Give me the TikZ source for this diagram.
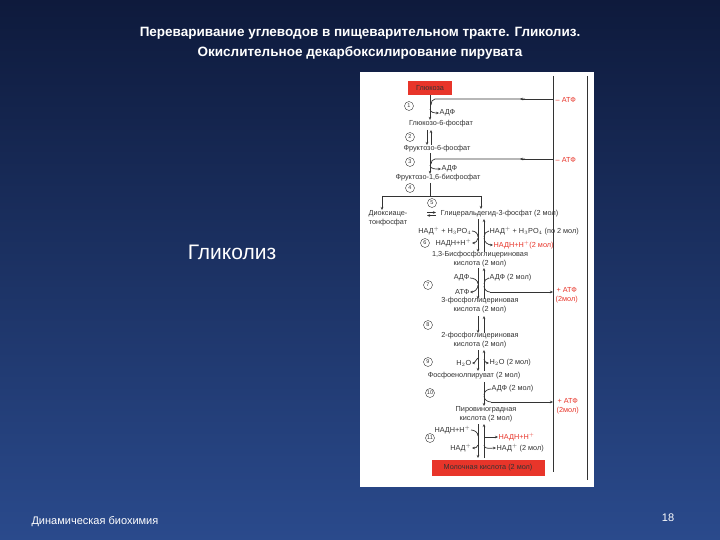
\documentclass[tikz,border=0pt]{standalone}
\usepackage{fontspec}
\setmainfont{Liberation Sans}
\usetikzlibrary{arrows.meta}
\definecolor{bgtop}{HTML}{0E1A3C}
\definecolor{bgbot}{HTML}{2A4A8C}
\definecolor{rd}{HTML}{E8352A}
\definecolor{ink}{HTML}{333333}
\begin{document}
\begin{tikzpicture}[x=1pt,y=-1pt,
  t/.style={font=\fontsize{7.3}{8.6}\selectfont,text=ink,inner sep=0.5pt,align=center},
  tr/.style={t,text=rd},
  num/.style={draw=ink,circle,inner sep=0pt,minimum size=9pt,font=\fontsize{5.5}{5.5}\selectfont,text=ink},
  ln/.style={draw=ink,line width=0.7pt},
  ar/.style={ln,-{Stealth[length=3pt,width=2.5pt]}},
  redbox/.style={fill=rd,text=ink,font=\fontsize{7.3}{8}\selectfont,inner sep=2pt}]
\shade[top color=bgtop,bottom color=bgbot] (0,0) rectangle (720,540);
\useasboundingbox (0,0) rectangle (720,540);
\node (title) [text=white,font=\bfseries\fontsize{13.5}{20}\selectfont,align=center] at (360,43)
 {Переваривание углеводов в пищеварительном тракте. Гликолиз.\\Окислительное декарбоксилирование пирувата};
\node (gl) [text=white,font=\fontsize{21}{24}\selectfont] at (232,252) {Гликолиз};
\node (foot) [text=white,font=\fontsize{11}{13}\selectfont,anchor=west] at (28,522) {Динамическая биохимия};
\node (pg) [text=white,font=\fontsize{11}{13}\selectfont] at (668,518) {18};
% white panel
\node (panel) [fill=white,minimum width=234pt,minimum height=415pt,inner sep=0pt] at (477,279.5) {};
\draw[ln] (553,76) -- (553,472);
\draw[ln] (587,76) -- (587,480);
\node (glu) [redbox,minimum width=44pt,minimum height=14pt] at (430,88) {Глюкоза};
\node (n1) [num] at (409,106) {1};
\node (adf1) [t,anchor=west] at (439,113) {АДФ};
\node (g6p) [t] at (441,124) {Глюкозо-6-фосфат};
\node (n2) [num] at (410,137) {2};
\node (f6p) [t] at (437,149) {Фруктозо-6-фосфат};
\node (n3) [num] at (410,162) {3};
\node (adf2) [t,anchor=west] at (441,169) {АДФ};
\node (f16) [t] at (438,178) {Фруктозо-1,6-бисфосфат};
\node (n4) [num] at (410,188) {4};
\node (n5) [num] at (432,203) {5};
\node (atf1) [tr,anchor=west] at (555,100) {– АТФ};
\node (atf2) [tr,anchor=west] at (555,160) {– АТФ};
\node (dap) [t] at (388,218) {Диоксиаце-\\тонфосфат};
\node (gap) [t,anchor=west] at (440,214) {Глицеральдегид-3-фосфат (2 мол)};
\node (nad1) [t,anchor=east] at (472,231) {НАД$^+$ + H$_3$PO$_4$};
\node (nad2) [t,anchor=west] at (489,231) {НАД$^+$ + H$_3$PO$_4$ (по 2 мол)};
\node (n6) [num] at (425,243) {6};
\node (nadh1) [t,anchor=east] at (472,243) {НАДН+Н$^+$};
\node (nadh2) [tr,anchor=west] at (493,245) {НАДН+Н$^+$(2 мол)};
\node (bpg) [t] at (480,259) {1,3-Бисфосфоглицериновая\\кислота (2 мол)};
\node (adf3) [t,anchor=east] at (470,278) {АДФ};
\node (adf4) [t,anchor=west] at (489,278) {АДФ (2 мол)};
\node (n7) [num] at (428,285) {7};
\node (atf3) [t,anchor=east] at (470,292) {АТФ};
\node (atf4) [tr,anchor=west] at (555,295) {+ АТФ\\(2мол)};
\node (pga3) [t] at (480,305) {3-фосфоглицериновая\\кислота (2 мол)};
\node (n8) [num] at (428,325) {8};
\node (pga2) [t] at (480,340) {2-фосфоглицериновая\\кислота (2 мол)};
\node (n9) [num] at (428,362) {9};
\node (h2o1) [t,anchor=east] at (472,363) {H$_2$O};
\node (h2o2) [t,anchor=west] at (489,363) {H$_2$O (2 мол)};
\node (pep) [t] at (474,376) {Фосфоенолпируват (2 мол)};
\node (n10) [num] at (430,393) {10};
\node (adf5) [t,anchor=west] at (491,389) {АДФ (2 мол)};
\node (atf5) [tr,anchor=west] at (556,406) {+ АТФ\\(2мол)};
\node (pyr) [t] at (486,414) {Пировиноградная\\кислота (2 мол)};
\node (nadh3) [t,anchor=east] at (471,430) {НАДН+Н$^+$};
\node (n11) [num] at (430,438) {11};
\node (nadh4) [tr,anchor=west] at (498,437) {НАДН+Н$^+$};
\node (nad3) [t,anchor=east] at (472,448) {НАД$^+$};
\node (nad4) [t,anchor=west] at (496,448) {НАД$^+$ (2 мол)};
\node (lac) [redbox,minimum width=113pt,minimum height=16pt] at (488,468) {Молочная кислота (2 мол)};
% steps 1-5
\draw[ar] (glu.south -| 430,0) -- (g6p.north -| 430,0);
\draw[ar] (553,99) -- (520,99);
\draw[ln] (525,99) -- (435,99) to[out=180,in=90] (431,105);
\draw[ar] (430,109) to[out=-90,in=180] (adf1.west);
\draw[ar] (427,130) -- (427,145);
\draw[ar] (431,145) -- (431,130);
\draw[ar] (f6p.south -| 430,0) -- (f16.north -| 430,0);
\draw[ar] (553,159) -- (520,159);
\draw[ln] (525,159) -- (435,159) to[out=180,in=90] (431,164);
\draw[ar] (430,165) to[out=-90,in=180] (adf2.west);
\draw[ln] (430,183) -- (430,196);
\draw[ln] (382,196) -- (481,196);
\draw[ar] (382,196) -- (382,210);
\draw[ar] (481,196) -- (481,209);
\draw[ar] (427,212.5) -- (436,212.5);
\draw[ar] (436,215.5) -- (427,215.5);
% step 6
\draw[ar] (478,219) -- (478,252);
\draw[ar] (484,252) -- (484,219);
\draw[ln] (nad1.east) to[out=0,in=90] (478,237);
\draw[ar] (478,238) to[out=-90,in=0] (nadh1.east);
\draw[ln] (nad2.west) to[out=180,in=90] (484,237);
\draw[ar] (484,238) to[out=-90,in=180] (nadh2.west);
% step 7
\draw[ar] (478,268) -- (478,299);
\draw[ar] (484,299) -- (484,268);
\draw[ln] (adf3.east) to[out=0,in=90] (478,284);
\draw[ar] (478,285) to[out=-90,in=0] (atf3.east);
\draw[ln] (adf4.west) to[out=180,in=90] (484,284);
\draw[ln] (484,286) to[out=-90,in=180] (490,292);
\draw[ar] (490,292) -- (553,292);
% step 8
\draw[ar] (478,316) -- (478,333);
\draw[ar] (484,333) -- (484,316);
% step 9
\draw[ar] (478,350) -- (478,371);
\draw[ar] (484,371) -- (484,350);
\draw[ar] (478,359) to[out=90,in=0] (h2o1.east);
\draw[ar] (484,359) to[out=-90,in=180] (h2o2.west);
% step 10
\draw[ar] (484,382) -- (484,406);
\draw[ln] (adf5.west) to[out=180,in=90] (484,395);
\draw[ln] (484,396) to[out=-90,in=180] (491,402);
\draw[ar] (491,402) -- (553,402);
% step 11
\draw[ar] (478,424) -- (478,458);
\draw[ar] (484,458) -- (484,424);
\draw[ln] (nadh3.east) to[out=0,in=90] (478,436);
\draw[ar] (484,437) -- (nadh4.west);
\draw[ar] (478,445) to[out=-90,in=0] (nad3.east);
\draw[ar] (484,445) to[out=-90,in=180] (nad4.west);
\end{tikzpicture}
\end{document}
